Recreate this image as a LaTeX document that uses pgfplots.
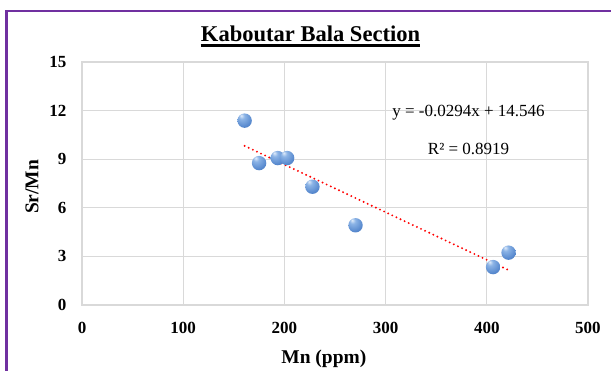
\documentclass[border=0pt]{standalone}
\usepackage{pgfplots}
\pgfplotsset{compat=1.18}
\usepackage{fontspec}
\setmainfont{Liberation Serif}
\definecolor{framec}{HTML}{7030A0}
\definecolor{gridc}{HTML}{D9D9D9}
\definecolor{ballhi}{RGB}{225,236,250}
\definecolor{balllt}{RGB}{140,180,230}
\definecolor{ballc}{RGB}{85,135,205}
\definecolor{balldk}{RGB}{55,90,145}
\pgfdeclareradialshading{eball}{\pgfpoint{-12bp}{18bp}}{%
  color(0bp)=(ballhi); color(10bp)=(balllt); color(32bp)=(ballc); color(58bp)=(balldk); color(75bp)=(balldk)}
\pgfdeclareplotmark{eball}{%
  \pgfpathcircle{\pgfpointorigin}{\pgfplotmarksize}%
  \pgfshadepath{eball}{0}%
  \pgfusepath{}%
}
\begin{document}
\begin{tikzpicture}
\path[use as bounding box, fill=white] (0,0) rectangle (458.25pt,278.25pt);
\draw[framec, line width=1.6pt] (4.875pt,-5pt) -- (4.875pt,270.2pt) -- (465pt,270.2pt);
\node[anchor=base, inner sep=0pt, font=\fontsize{16.9}{20}\selectfont\bfseries] (t) at (232.9pt,247pt) {Kaboutar Bala Section};
\draw[line width=1.7pt] ([yshift=-2.9pt]t.base west) -- ([yshift=-2.9pt]t.base east);
\begin{axis}[
  at={(61.5pt,49.5pt)}, anchor=south west,
  scale only axis, width=379.5pt, height=182.25pt,
  xmin=0, xmax=500, ymin=0, ymax=15,
  xtick={0,100,...,500}, ytick={0,3,...,15},
  grid=major, grid style={draw=gridc, line width=0.8pt},
  axis line style={draw=gridc, line width=0.8pt},
  major tick length=0pt,
  /pgf/number format/assume math mode=true,
  tick label style={font=\fontsize{12.75}{14}\selectfont\bfseries},
  xticklabel style={anchor=north, inner sep=0pt, yshift=-12.4pt},
  yticklabel style={anchor=east, inner sep=0pt, xshift=-11.5pt},
  xlabel={Mn (ppm)}, ylabel={Sr/Mn},
  label style={font=\fontsize{14.6}{16}\selectfont\bfseries},
  xlabel style={at={(axis description cs:0.478,-0.24)}, anchor=base, inner sep=0pt},
  ylabel style={at={(axis description cs:-0.086,0.486)}, anchor=base, inner sep=0pt},
  clip=false,
]
\addplot[only marks, mark=eball, mark size=5.4pt] coordinates {
(160.7,11.38) (175.0,8.76) (193.4,9.07) (202.7,9.07) (227.7,7.30) (270.3,4.92) (406.2,2.34) (421.5,3.23)
};
\addplot[red, line width=1.6pt, line cap=round, dash pattern=on 0pt off 3.4pt] coordinates {
(160.7,9.822) (421.5,2.154)
};
\node[anchor=base, inner sep=0pt, font=\fontsize{12.75}{14}\selectfont] at (axis cs:382,11.62) {y = -0.0294x + 14.546};
\node[anchor=base, inner sep=0pt, font=\fontsize{12.75}{14}\selectfont] at (axis cs:382,9.26) {R² = 0.8919};
\end{axis}
\end{tikzpicture}
\end{document}
